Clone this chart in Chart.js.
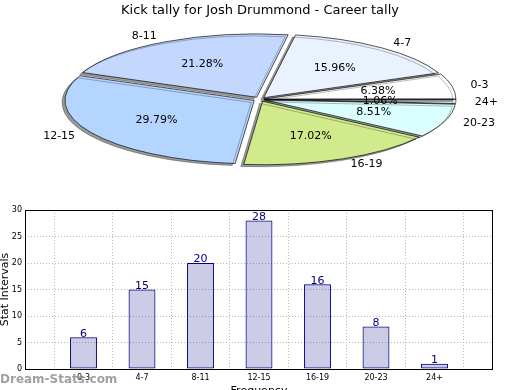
<!DOCTYPE html>
<html>
<head>
<meta charset="utf-8">
<script src="https://cdn.jsdelivr.net/npm/chart.js@4.4.1/dist/chart.umd.min.js"></script>
<style>
  html, body { margin: 0; padding: 0; background: #fff; }
  #wrap { position: relative; width: 520px; height: 390px; overflow: hidden; }
  #pie { position: absolute; left: 0; top: 0; }
  #bar { position: absolute; left: 0; top: 195px; }
</style>
</head>
<body>
<div id="wrap">
  <canvas id="pie" width="520" height="195"></canvas>
  <canvas id="bar" width="520" height="195"></canvas>
</div>
<script>
// Kick tally — pie (squashed, exploded) + bar chart below

const categories = ['0-3', '4-7', '8-11', '12-15', '16-19', '20-23', '24+'];
const tally = [6, 15, 20, 28, 16, 8, 1];
const sliceColors = ['#ffffff', '#eaf1ff', '#c4d8ff', '#b4d5ff', '#d0ea8c', '#dbffff', '#f4f4f4'];
const yTicks = [0, 5, 10, 15, 20, 25, 30];

const FONT = 'DejaVu Sans';
const SQUASH = 0.335;
const RADIUS = 189;
const EXPLODE = 7;   // px, in the un-squashed circle

const total = tally.reduce((a, b) => a + b, 0);

// matplotlib draws counter-clockwise from 3 o'clock; chart.js goes clockwise,
// so feed the slices reversed and start at 3 o'clock
const pieLabels = categories.slice().reverse();
const pieValues = tally.slice().reverse();
const pieColors = sliceColors.slice().reverse();

// chart.js moves an arc by offset/4 * (2 - sin(circumference)); undo that
// so every slice is pushed out by the same EXPLODE pixels
function sliceOffset(ctx) {
  const circ = Math.min(Math.PI, pieValues[ctx.dataIndex] / total * Math.PI * 2);
  const fix = 1 - Math.sin(circ);
  return EXPLODE * 4 / (1 + fix);
}

const squashPlugin = {
  id: 'squash',
  beforeDatasetsDraw(chart) {
    const arc = chart.getDatasetMeta(0).data[0];
    const ctx = chart.ctx;
    ctx.save();
    ctx.translate(arc.x, arc.y);
    ctx.scale(1, SQUASH);
    ctx.translate(-arc.x, -arc.y);
    ctx.shadowColor = 'rgba(0,0,0,0.4)';
    ctx.shadowOffsetX = -3;
    ctx.shadowOffsetY = 2;
    ctx.shadowBlur = 0;
  },
  afterDatasetsDraw(chart) {
    chart.ctx.restore();
  },
  afterDraw(chart) {
    const ctx = chart.ctx;
    const meta = chart.getDatasetMeta(0);
    ctx.save();
    ctx.font = '11px ' + FONT;
    ctx.fillStyle = '#000';
    ctx.textBaseline = 'middle';
    meta.data.forEach((arc, i) => {
      const mid = (arc.startAngle + arc.endAngle) / 2;
      const c = Math.cos(mid), s = Math.sin(mid);
      const lr = EXPLODE + RADIUS * 1.1;
      const pr = EXPLODE + RADIUS * 0.6;
      const lx = arc.x + lr * c, ly = arc.y + lr * s * SQUASH;
      ctx.textAlign = c >= 0 ? 'left' : 'right';
      ctx.fillText(pieLabels[i], lx, ly);
      const px = arc.x + pr * c, py = arc.y + pr * s * SQUASH;
      ctx.textAlign = 'center';
      ctx.fillText((pieValues[i] / total * 100).toFixed(2) + '%', px, py);
    });
    ctx.restore();
  }
};

new Chart(document.getElementById('pie'), {
  type: 'pie',
  data: {
    labels: pieLabels,
    datasets: [{
      data: pieValues,
      backgroundColor: pieColors,
      borderColor: '#000',
      borderWidth: 1,
      offset: sliceOffset
    }]
  },
  options: {
    responsive: false,
    animation: false,
    rotation: 90,
    radius: RADIUS,
    layout: { padding: { bottom: 19 } },
    plugins: {
      legend: { display: false },
      tooltip: { enabled: false },
      title: {
        display: true,
        text: 'Kick tally for Josh Drummond - Career tally',
        color: '#000',
        font: { family: FONT, size: 13, weight: 'normal' },
        padding: { top: 3, bottom: 4 }
      }
    }
  },
  plugins: [squashPlugin]
});

// ---- bar chart ----
const barLabels = [''].concat(categories, ['']);
const barValues = [null].concat(tally, [null]);

const barExtras = {
  id: 'barExtras',
  afterDatasetsDraw(chart) {
    const ctx = chart.ctx;
    const meta = chart.getDatasetMeta(0);
    ctx.save();
    ctx.font = '11px ' + FONT;
    ctx.fillStyle = '#000080';
    ctx.textAlign = 'center';
    ctx.textBaseline = 'bottom';
    meta.data.forEach((bar, i) => {
      if (barValues[i] == null) return;
      ctx.fillText(String(barValues[i]), bar.x, bar.y + 2);
    });
    // frame
    const a = chart.chartArea;
    ctx.strokeStyle = '#000';
    ctx.lineWidth = 1;
    ctx.strokeRect(a.left + 0.5, a.top + 0.5, a.right - a.left - 1, a.bottom - a.top);
    ctx.restore();
  },
  afterDraw(chart) {
    const ctx = chart.ctx;
    const a = chart.chartArea;
    ctx.save();
    ctx.fillStyle = '#000';
    ctx.font = '11px ' + FONT;
    ctx.textAlign = 'center';
    ctx.textBaseline = 'middle';
    ctx.fillText('Frequency', (a.left + a.right) / 2, 196);
    ctx.translate(5, (a.top + a.bottom) / 2);
    ctx.rotate(-Math.PI / 2);
    ctx.fillText('Stat Intervals', 0, 0);
    ctx.restore();
    ctx.save();
    ctx.font = 'bold 12px ' + FONT;
    ctx.fillStyle = 'rgba(120,120,120,0.7)';
    ctx.textAlign = 'left';
    ctx.textBaseline = 'middle';
    ctx.fillText('Dream-Stats.com', 0, 185);
    ctx.restore();
  }
};

new Chart(document.getElementById('bar'), {
  type: 'bar',
  data: {
    labels: barLabels,
    datasets: [{
      data: barValues,
      backgroundColor: 'rgba(0,0,128,0.2)',
      borderColor: '#000080',
      borderWidth: 1,
      borderSkipped: false,
      barPercentage: 0.46,
      categoryPercentage: 1
    }]
  },
  options: {
    responsive: false,
    animation: false,
    layout: { padding: { top: 15, right: 27 } },
    plugins: {
      legend: { display: false },
      tooltip: { enabled: false }
    },
    scales: {
      x: {
        offset: false,
        afterFit(scale) { scale.height = 21; },
        grid: { color: '#b8b8b8', drawTicks: false },
        border: { display: false, dash: [1, 2] },
        ticks: {
          color: '#000', padding: 4, autoSkip: false, maxRotation: 0,
          font: { family: FONT, size: 8 }
        }
      },
      y: {
        min: 0, max: 30,
        afterFit(scale) { scale.width = 25; },
        afterBuildTicks(scale) { scale.ticks = yTicks.map(v => ({ value: v })); },
        grid: { color: '#b8b8b8', drawTicks: false },
        border: { display: false, dash: [1, 2] },
        ticks: {
          color: '#000', padding: 3,
          font: { family: FONT, size: 8 }
        }
      }
    }
  },
  plugins: [barExtras]
});
</script>
</body>
</html>
